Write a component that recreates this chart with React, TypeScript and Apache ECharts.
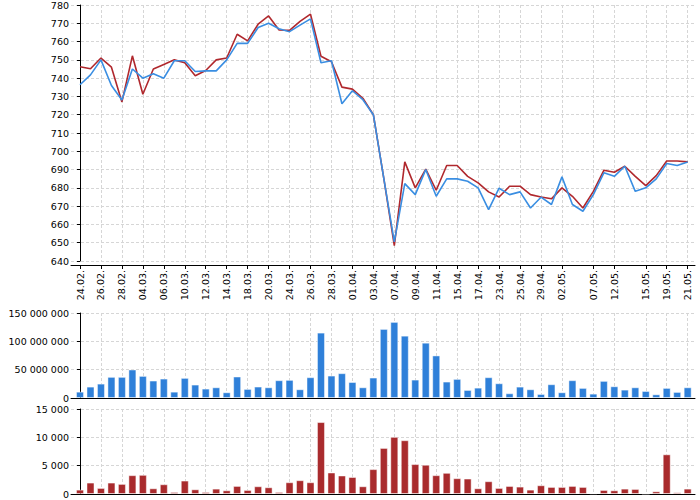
import React, { useEffect, useRef } from "react";
import * as echarts from "echarts";

const dates = [
  "24.02", "25.02", "26.02", "27.02", "28.02", "03.03", "04.03", "05.03", "06.03", "07.03",
  "10.03", "11.03", "12.03", "13.03", "14.03", "17.03", "18.03", "19.03", "20.03", "21.03",
  "24.03", "25.03", "26.03", "27.03", "28.03", "31.03", "01.04", "02.04", "03.04", "04.04",
  "07.04", "08.04", "09.04", "10.04", "11.04", "14.04", "15.04", "16.04", "17.04", "22.04",
  "23.04", "24.04", "25.04", "28.04", "29.04", "30.04", "02.05", "05.05", "06.05", "07.05",
  "08.05", "12.05", "13.05", "14.05", "15.05", "16.05", "19.05", "20.05", "21.05",
];

const tickDates = [
  "24.02", "26.02", "28.02", "04.03", "06.03", "10.03", "12.03", "14.03", "18.03", "20.03",
  "24.03", "26.03", "28.03", "01.04", "03.04", "07.04", "09.04", "11.04", "15.04", "17.04",
  "23.04", "25.04", "29.04", "02.05", "07.05", "12.05", "15.05", "19.05", "21.05",
];

const priceBlue = [
  736.4, 741.8, 750, 736, 728, 745, 740, 742.4, 740, 749.5,
  749.5, 743.6, 744, 744, 750, 759, 759, 767.7, 770, 767,
  765.4, 769, 772.4, 748.4, 749.5, 726, 733.1, 728.2, 720, 685,
  650.5, 682.3, 676.3, 690, 675.4, 684.9, 684.9, 683.6, 680, 668.1,
  679.8, 676.3, 677.8, 669, 674.9, 670.9, 686, 670.9, 667.2, 676.3,
  688.2, 686.3, 691.8, 678.1, 680, 684.9, 693.3, 692.2, 694.2,
];

const priceRed = [
  746.2, 745.1, 751, 746, 727, 752.2, 731.2, 745, 747.5, 750,
  748.4, 741.3, 744.2, 750, 751, 764, 760.4, 769.5, 774, 766.3,
  766.1, 771, 775, 752, 749, 735.1, 734, 729, 720, 685,
  648.4, 694.2, 680, 690.3, 678.7, 692.2, 692.2, 686.3, 682.7, 677.8,
  675, 680.9, 680.9, 676.3, 675, 674, 680, 675.4, 669, 678.1,
  689.6, 688.5, 691.8, 686.3, 681.2, 686.7, 694.7, 694.7, 694.2,
];

const volumeBlue = [
  11200000, 20100000, 25400000, 37300000, 37300000, 50300000, 39000000, 30800000, 34300000, 11200000,
  35500000, 23700000, 16600000, 18900000, 10100000, 37900000, 16000000, 20100000, 18900000, 31400000,
  32000000, 15400000, 36700000, 115400000, 39600000, 43800000, 28200000, 18900000, 36100000, 121900000,
  134300000, 110000000, 32500000, 97600000, 75100000, 29000000, 33700000, 14200000, 18300000, 36700000,
  26000000, 8300000, 20100000, 15400000, 7100000, 24300000, 10100000, 31400000, 17800000, 7700000,
  30200000, 20700000, 14800000, 18900000, 12400000, 6500000, 17800000, 10700000, 18900000,
];

const volumeRed = [
  771, 2017, 1068, 2017, 1779, 3321, 3381, 1008, 1720, 356,
  2372, 830, 356, 949, 652, 1423, 712, 1364, 1186, 356,
  2076, 2432, 2076, 12693, 3796, 3262, 3000, 1364, 4389, 8126,
  10083, 9490, 5279, 5160, 3321, 3737, 2788, 2728, 1008, 2254,
  1068, 1423, 1305, 771, 1542, 1246, 1246, 1423, 1246, 119,
  712, 652, 949, 890, 59, 475, 7000, 297, 949,
];

const BLUE = "#3a8ee2";
const RED = "#b0282d";
const BAR_BLUE = "#2f80d9";
const BAR_RED = "#a92b2d";
const GRID_COLOR = "#d6d6d6";
const FONT = "DejaVu Sans";

function spaced(v: number): string {
  return String(Math.round(v)).replace(/\B(?=(\d{3})+(?!\d))/g, " ");
}

export default function App() {
  const ref = useRef<HTMLDivElement>(null);

  useEffect(() => {
    if (!ref.current) return;
    const chart = echarts.init(ref.current, undefined, { renderer: "svg" });
    const tickIdx = tickDates.map((d) => dates.indexOf(d));
    const xMin = -0.86;
    const xMax = dates.length - 1 + 0.7;

    const splitLine = {
      show: true,
      lineStyle: { color: GRID_COLOR, type: [3, 2] as any, width: 1 },
    };

    const makeX = (gridIndex: number, withLabels: boolean) => ({
      type: "value" as const,
      gridIndex,
      min: xMin,
      max: xMax,
      offset: withLabels ? 4 : 0,
      axisLine: { show: true, onZero: false, lineStyle: { color: "#000", width: 1 } },
      axisTick: {
        show: true,
        customValues: tickIdx,
        length: withLabels ? 4 : 0,
        lineStyle: { color: withLabels ? "#000" : "rgba(0,0,0,0)" },
      },
      axisLabel: {
        show: withLabels,
        customValues: tickIdx,
        rotate: 90,
        margin: 5,
        color: "#000",
        fontSize: 9.5,
        fontFamily: FONT,
        formatter: (v: number) => dates[Math.round(v)] + ".",
      },
      splitLine,
    });

    const makeY = (gridIndex: number, min: number, max: number, interval: number, fmt: (v: number) => string) => ({
      type: "value" as const,
      gridIndex,
      min,
      max,
      interval,
      axisLine: { show: true, lineStyle: { color: "#000", width: 1 } },
      axisTick: { show: true, length: 3, lineStyle: { color: "#000" } },
      axisLabel: {
        color: "#000",
        fontSize: 9.5,
        fontFamily: FONT,
        margin: 2,
        formatter: fmt,
      },
      splitLine,
    });

    chart.setOption({
      animation: false,
      backgroundColor: "#fff",
      grid: [
        { left: 71, right: 5, top: 5, height: 256 },
        { left: 71, right: 5, top: 313, height: 85 },
        { left: 71, right: 5, top: 409, height: 85 },
      ],
      xAxis: [makeX(0, true), makeX(1, false), makeX(2, false)],
      yAxis: [
        makeY(0, 640, 780, 10, (v) => String(v)),
        makeY(1, 0, 150000000, 50000000, spaced),
        makeY(2, 0, 15000, 5000, spaced),
      ],
      series: [
        {
          type: "line",
          xAxisIndex: 0,
          yAxisIndex: 0,
          data: priceRed.map((v, i) => [i, v]),
          showSymbol: false,
          lineStyle: { color: RED, width: 1.6 },
          itemStyle: { color: RED },
          z: 3,
        },
        {
          type: "line",
          xAxisIndex: 0,
          yAxisIndex: 0,
          data: priceBlue.map((v, i) => [i, v]),
          showSymbol: false,
          lineStyle: { color: BLUE, width: 1.6 },
          itemStyle: { color: BLUE },
          z: 4,
        },
        {
          type: "bar",
          xAxisIndex: 1,
          yAxisIndex: 1,
          data: volumeBlue.map((v, i) => [i, v]),
          barWidth: 8,
          itemStyle: { color: BAR_BLUE, borderColor: "rgba(255,255,255,0.45)", borderWidth: 1 },
        },
        {
          type: "bar",
          xAxisIndex: 2,
          yAxisIndex: 2,
          data: volumeRed.map((v, i) => [i, v]),
          barWidth: 8,
          itemStyle: { color: BAR_RED, borderColor: "rgba(255,255,255,0.45)", borderWidth: 1 },
        },
      ],
    });

    return () => chart.dispose();
  }, []);

  return (
    <div
      ref={ref}
      style={{ position: "fixed", left: 0, top: 0, width: 700, height: 500, background: "#fff" }}
    />
  );
}
